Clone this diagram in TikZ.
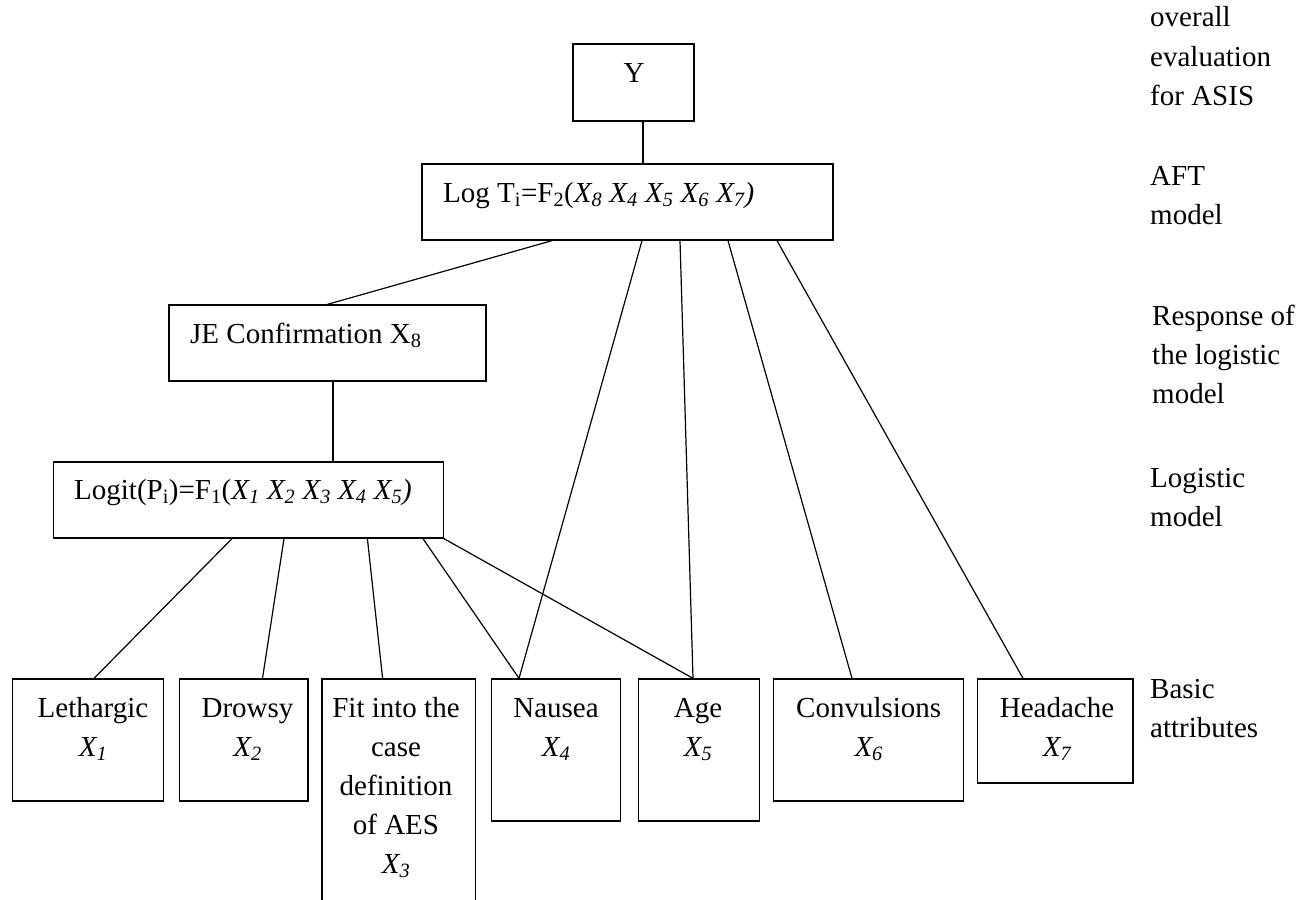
\documentclass[tikz,border=0pt]{standalone}
\usepackage{fontspec}
\setmainfont{Liberation Serif}
\newcommand\mysub[1]{\textsubscript{#1}}
\newcommand\iX[1]{\textit{X\textsubscript{#1}}}
\begin{document}
\begin{tikzpicture}[x=1pt,y=-1pt,
  box/.style={draw, rectangle, inner sep=0pt, line width=1.3pt},
  txt/.style={inner sep=0pt, font=\fontsize{29}{39}\selectfont, align=center, anchor=base},
  ltxt/.style={inner sep=0pt, font=\fontsize{29}{39}\selectfont, anchor=base west},
  side/.style={inner sep=0pt, font=\fontsize{29}{39}\selectfont, align=left, anchor=base west},
  link/.style={line width=1.2pt}]
\useasboundingbox (0,0) rectangle (1305,899);
\clip (0,0) rectangle (1305,899);
% boxes
\node[box, minimum width=121pt, minimum height=77pt] (ytop) at (633.5,82.5) {};
\node[box, minimum width=411pt, minimum height=76pt] (log) at (627.5,202) {};
\node[box, minimum width=317pt, minimum height=76pt] (je) at (327.5,343) {};
\node[box, minimum width=389.6pt, minimum height=76pt] (logit) at (248.5,500) {};
\node[box, minimum width=151pt, minimum height=122pt] (leth) at (88,740) {};
\node[box, minimum width=128.5pt, minimum height=122pt] (drowsy) at (243.75,740) {};
\node[box, minimum width=153.4pt, minimum height=241pt] (fit) at (398.7,799.5) {};
\node[box, minimum width=129pt, minimum height=142pt] (nausea) at (556,750) {};
\node[box, minimum width=121pt, minimum height=142pt] (age) at (699.25,750) {};
\node[box, minimum width=189.7pt, minimum height=122pt] (conv) at (868.5,740) {};
\node[box, minimum width=155.7pt, minimum height=104pt] (head) at (1055,731) {};
% texts in boxes (base anchor = baseline of last line)
\node[txt] (ytxt) at (634,82) {Y};
\node[ltxt] (logtxt) at (443,202) {Log T\mysub{i}=F\mysub{2}(\iX{8} \iX{4} \iX{5} \iX{6} \textit{X\mysub{7})}};
\node[ltxt] (jetxt) at (190,343) {JE Confirmation X\mysub{8}};
\node[ltxt] (logittxt) at (74,499) {Logit(P\mysub{i})=F\mysub{1}(\iX{1} \iX{2} \iX{3} \iX{4} \textit{X\mysub{5})}};
\node[txt] (lethtxt) at (93,756) {Lethargic\\\iX{1}};
\node[txt] (drowsytxt) at (247.5,756) {Drowsy\\\iX{2}};
\node[txt] (fittxt) at (396,873) {Fit into the\\case\\definition\\of AES\\\iX{3}};
\node[txt] (nauseatxt) at (556,756) {Nausea\\\iX{4}};
\node[txt] (agetxt) at (698,756) {Age\\\iX{5}};
\node[txt] (convtxt) at (868.7,756) {Convulsions\\\iX{6}};
\node[txt] (headtxt) at (1057,756) {Headache\\\iX{7}};
% side labels
\node[side] (l1) at (1150,105) {overall\\evaluation\\for ASIS};
\node[side] (l2) at (1150,224) {AFT\\model};
\node[side] (l3) at (1152,403) {Response of\\the logistic\\model};
\node[side] (l4) at (1150,526) {Logistic\\model};
\node[side] (l5) at (1150,737) {Basic\\attributes};
% connectors
\draw[link] (643,0 |- ytop.south) -- (643,0 |- log.north);
\draw[link] (552,0 |- log.south) -- (je.north);
\draw[link] (333,0 |- je.south) -- (333,0 |- logit.north);
\draw[link] (232,0 |- logit.south) -- (94,0 |- leth.north);
\draw[link] (284,0 |- logit.south) -- (262.5,0 |- drowsy.north);
\draw[link] (367.4,0 |- logit.south) -- (382.6,0 |- fit.north);
\draw[link] (423,0 |- logit.south) -- (519,0 |- nausea.north);
\draw[link] (logit.south east) -- (693,0 |- age.north);
\draw[link] (642,0 |- log.south) -- (519,0 |- nausea.north);
\draw[link] (680,0 |- log.south) -- (693,0 |- age.north);
\draw[link] (728,0 |- log.south) -- (852,0 |- conv.north);
\draw[link] (777,0 |- log.south) -- (1023,0 |- head.north);
\end{tikzpicture}
\end{document}
